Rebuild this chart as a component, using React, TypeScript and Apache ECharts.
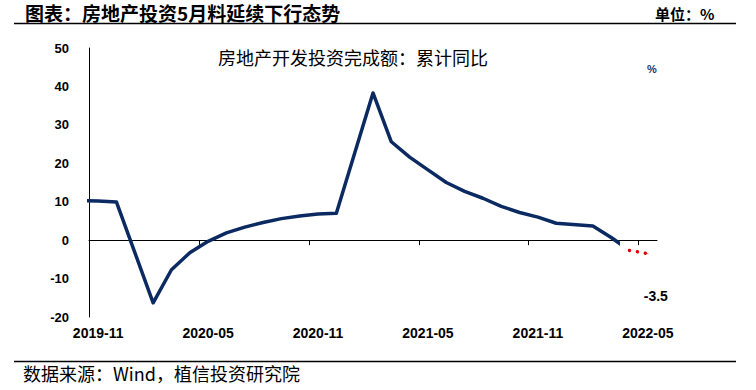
import { useEffect, useRef } from "react";
import * as echarts from "echarts";

// Monthly categories (index 0 = 2019-10, lies just left of the plot and is clipped)
const months = [
  "2019-10", "2019-11", "2019-12",
  "2020-01", "2020-02", "2020-03", "2020-04", "2020-05", "2020-06",
  "2020-07", "2020-08", "2020-09", "2020-10", "2020-11", "2020-12",
  "2021-01", "2021-02", "2021-03", "2021-04", "2021-05", "2021-06",
  "2021-07", "2021-08", "2021-09", "2021-10", "2021-11", "2021-12",
  "2022-01", "2022-02", "2022-03", "2022-04", "2022-05",
];

// 房地产开发投资完成额：累计同比 (%)
const actual: (number | null)[] = [
  10.3, 10.2, 9.9,
  null, -16.3, -7.7, -3.3, -0.3, 1.9,
  3.4, 4.6, 5.6, 6.3, 6.8, 7.0,
  null, 38.3, 25.6, 21.6, 18.3, 15.0,
  12.7, 10.9, 8.8, 7.2, 6.0, 4.4,
  null, 3.7, 0.7, -2.7, null,
];

// Forecast for May 2022
const forecast: (number | null)[] = [
  null, null, null,
  null, null, null, null, null, null,
  null, null, null, null, null, null,
  null, null, null, null, null, null,
  null, null, null, null, null, null,
  null, null, null, -2.7, -3.5,
];

const forecastLabelIndex = 31;
// the reported line is drawn up to half-way between 2022-03 and 2022-04
const actualLineEnd = 29.5;

const yMin = -20;
const yMax = 50;
const yStep = 10;

const titleText = "图表：房地产投资5月料延续下行态势";
const unitText = "单位：%";
const innerTitle = "房地产开发投资完成额：累计同比";
const sourceText = "数据来源：Wind，植信投资研究院";

const NAVY = "#0B2A62";
const RED = "#E00000";

const labelEvery = (index: number) => (index - 1) % 6 === 0;

export default function App() {
  const ref = useRef<HTMLDivElement>(null);

  useEffect(() => {
    if (!ref.current) return;
    const chart = echarts.init(ref.current, undefined, { renderer: "svg" });

    const labelIdx = months.map((_, i) => i).filter(labelEvery);
    const tickIdx = labelIdx.map((i) => i - 0.5);
    const xMin = 0.5;
    const xMax = months.length - 0.5;

    const actualData = actual
      .map((v, i) => [i, v])
      .filter((p) => p[1] !== null);

    const forecastData = forecast
      .map((v, i) =>
        v === null
          ? null
          : i === forecastLabelIndex
          ? {
              value: [i, v],
              label: {
                show: true,
                position: "bottom",
                offset: [8, 30],
                formatter: () => String(v),
                fontSize: 14,
                fontWeight: "bold",
                color: "#000",
                fontFamily: "Liberation Sans, Arial, sans-serif",
              },
            }
          : [i, v]
      )
      .filter((p) => p !== null);

    chart.setOption({
      animation: false,
      backgroundColor: "#ffffff",
      grid: { left: 89, right: 99, top: 48, bottom: 73, containLabel: false },
      xAxis: [
        {
          type: "value",
          min: xMin,
          max: xMax,
          axisLine: { show: true, onZero: true, lineStyle: { color: "#000", width: 1 } },
          axisTick: { show: true, customValues: tickIdx, length: 5, lineStyle: { color: "#000", width: 1 } },
          axisLabel: { show: false },
          splitLine: { show: false },
        },
        {
          type: "value",
          min: xMin,
          max: xMax,
          position: "bottom",
          axisLine: { show: false, onZero: false },
          axisTick: { show: false },
          splitLine: { show: false },
          axisLabel: {
            customValues: labelIdx,
            formatter: (v: number) => months[Math.round(v)] ?? "",
            fontSize: 14,
            fontWeight: "bold",
            color: "#000",
            margin: 9,
            fontFamily: "Liberation Sans, Arial, sans-serif",
          },
        },
      ],
      yAxis: {
        type: "value",
        min: yMin,
        max: yMax,
        interval: yStep,
        axisLine: { show: true, onZero: false, lineStyle: { color: "#000", width: 1 } },
        axisTick: { show: false },
        splitLine: { show: false },
        axisLabel: {
          fontSize: 13,
          fontWeight: "bold",
          color: "#000",
          margin: 20,
          fontFamily: "Liberation Sans, Arial, sans-serif",
        },
      },
      visualMap: {
        type: "piecewise",
        show: false,
        seriesIndex: 0,
        dimension: 0,
        pieces: [
          { gte: 0, lte: actualLineEnd, color: NAVY },
          { gt: actualLineEnd, lte: months.length + 5, color: "rgba(0,0,0,0)" },
        ],
        outOfRange: { color: "rgba(0,0,0,0)" },
      },
      series: [
        {
          type: "line",
          data: actualData,
          xAxisIndex: 0,
          showSymbol: false,
          symbol: "none",
          clip: true,
          lineStyle: { width: 3.5, join: "round" },
          z: 2,
        },
        {
          type: "line",
          data: forecastData,
          xAxisIndex: 0,
          showSymbol: true,
          symbol: "circle",
          symbolSize: 1,
          itemStyle: { color: RED },
          clip: false,
          lineStyle: { width: 3.5, color: RED, type: [0.01, 8], cap: "round" },
          z: 3,
        },
      ],
      graphic: [
        {
          type: "text",
          x: 25,
          y: 12.5,
          style: {
            text: titleText,
            fontSize: 19,
            fontWeight: "bold",
            fontFamily: "Noto Sans CJK SC",
            fill: "#000",
            verticalAlign: "middle",
          },
        },
        {
          type: "line",
          shape: { x1: 14, y1: 23.5, x2: 736, y2: 23.5 },
          style: { stroke: "#000", lineWidth: 1.5 },
        },
        {
          type: "text",
          x: 655,
          y: 13,
          style: {
            text: unitText,
            fontSize: 15,
            fontWeight: "bold",
            fontFamily: "Noto Sans CJK SC",
            fill: "#000",
            verticalAlign: "middle",
          },
        },
        {
          type: "text",
          x: 218,
          y: 57,
          style: {
            text: innerTitle,
            fontSize: 18,
            fontFamily: "Noto Sans CJK SC",
            fill: "#000",
            verticalAlign: "middle",
          },
        },
        {
          type: "text",
          x: 647,
          y: 69,
          style: {
            text: "%",
            fontSize: 11,
            fontWeight: "bold",
            fontFamily: "Liberation Sans, Arial, sans-serif",
            fill: "#1F3864",
            verticalAlign: "middle",
          },
        },
        {
          type: "line",
          shape: { x1: 14, y1: 361.5, x2: 736, y2: 361.5 },
          style: { stroke: "#000", lineWidth: 1.5 },
        },
        {
          type: "text",
          x: 23,
          y: 373,
          style: {
            text: sourceText,
            fontSize: 18,
            fontFamily: "Noto Sans CJK SC",
            fill: "#000",
            verticalAlign: "middle",
          },
        },
      ],
    });

    return () => {
      chart.dispose();
    };
  }, []);

  return (
    <div
      ref={ref}
      style={{ position: "fixed", left: 0, top: 0, width: 756, height: 390, background: "#fff" }}
    />
  );
}
